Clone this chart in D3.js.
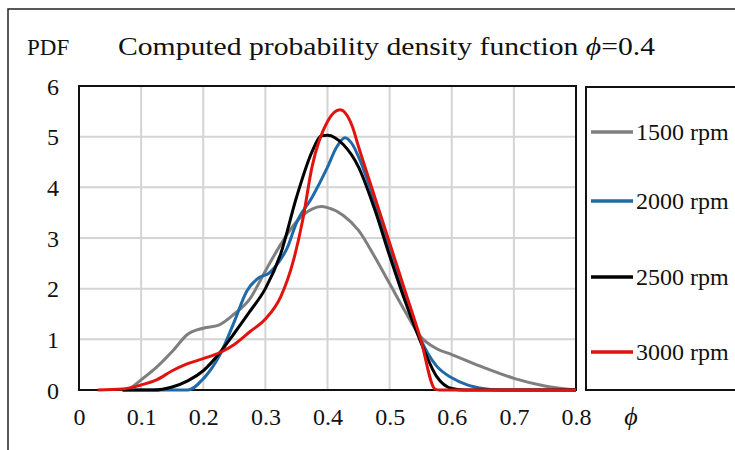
<!DOCTYPE html>
<html>
<head>
<meta charset="utf-8">
<script src="https://cdn.jsdelivr.net/npm/d3@7"></script>
<style>
  body { margin: 0; background: #fff; }
  svg text { font-family: "Liberation Serif", "Times New Roman", serif; fill: #111; }
</style>
</head>
<body>
<div id="chart"></div>
<script>
// Series: [phi, pdf] pairs
const series1500 = [
  [0.07, 0], [0.08, 0.02], [0.1, 0.2], [0.125, 0.45], [0.15, 0.76], [0.175, 1.1],
  [0.2, 1.22], [0.225, 1.28], [0.25, 1.5], [0.275, 1.8], [0.3, 2.35], [0.325, 2.88],
  [0.35, 3.32], [0.375, 3.57], [0.39, 3.62], [0.4, 3.6], [0.425, 3.45], [0.45, 3.15],
  [0.475, 2.65], [0.5, 2.1], [0.525, 1.55], [0.55, 1.05], [0.575, 0.82], [0.6, 0.7],
  [0.65, 0.45], [0.7, 0.23], [0.75, 0.08], [0.8, 0]
]
const series2000 = [
  [0.07, 0], [0.175, 0], [0.2, 0.22], [0.227, 0.7], [0.25, 1.35], [0.27, 1.95],
  [0.29, 2.22], [0.305, 2.3], [0.32, 2.5], [0.335, 2.8], [0.35, 3.3], [0.375, 3.8],
  [0.4, 4.4], [0.415, 4.8], [0.428, 4.98], [0.44, 4.85], [0.45, 4.6], [0.475, 3.75],
  [0.5, 2.75], [0.525, 1.85], [0.55, 1.0], [0.575, 0.48], [0.6, 0.24], [0.625, 0.1],
  [0.65, 0.03], [0.68, 0], [0.8, 0]
]
const series2500 = [
  [0.07, 0], [0.12, 0], [0.15, 0.06], [0.175, 0.18], [0.2, 0.38], [0.227, 0.74],
  [0.25, 1.12], [0.275, 1.55], [0.3, 2.0], [0.325, 2.7], [0.35, 3.8], [0.375, 4.7],
  [0.39, 5.02], [0.4, 5.03], [0.425, 4.85], [0.45, 4.4], [0.475, 3.6], [0.5, 2.65],
  [0.525, 1.75], [0.55, 0.95], [0.575, 0.28], [0.6, 0.03], [0.62, 0], [0.8, 0]
]
const series3000 = [
  [0.03, 0], [0.07, 0.02], [0.1, 0.1], [0.125, 0.2], [0.15, 0.38], [0.175, 0.52],
  [0.2, 0.62], [0.227, 0.74], [0.25, 0.9], [0.275, 1.15], [0.3, 1.4], [0.325, 1.85],
  [0.345, 2.55], [0.36, 3.35], [0.375, 4.4], [0.4, 5.3], [0.42, 5.53], [0.44, 5.2],
  [0.45, 4.8], [0.475, 3.85], [0.5, 2.9], [0.525, 1.95], [0.55, 1.0], [0.573, 0.02],
  [0.58, 0], [0.8, 0]
]

const seriesNames = ['1500 rpm', '2000 rpm', '2500 rpm', '3000 rpm']
const seriesColors = ['#7f7f7f', '#1f6aa8', '#000000', '#e0140f']
const allSeries = [series1500, series2000, series2500, series3000]

const xTicks = [0, 0.1, 0.2, 0.3, 0.4, 0.5, 0.6, 0.7, 0.8]
const yTicks = [0, 1, 2, 3, 4, 5, 6]

const drawChart = () => {
  const width = 735
  const height = 450
  const plot = { left: 79, top: 86, right: 576, bottom: 390 }

  const svg = d3.select('#chart')
    .append('svg')
    .attr('width', width)
    .attr('height', height)

  // outer frame (left + top edges visible)
  svg.append('path')
    .attr('d', `M8,${height} L8,9 L${width},9`)
    .attr('fill', 'none')
    .attr('stroke', '#222')
    .attr('stroke-width', 1.5)

  const x = d3.scaleLinear().domain([0, 0.8]).range([plot.left, plot.right])
  const y = d3.scaleLinear().domain([0, 6]).range([plot.bottom, plot.top])

  // gridlines
  svg.append('g')
    .selectAll('line')
    .data(xTicks.slice(1, -1))
    .join('line')
    .attr('x1', d => x(d)).attr('x2', d => x(d))
    .attr('y1', plot.top).attr('y2', plot.bottom)
    .attr('stroke', '#d4d4d4').attr('stroke-width', 2)

  svg.append('g')
    .selectAll('line')
    .data(yTicks.slice(1, -1))
    .join('line')
    .attr('x1', plot.left).attr('x2', plot.right)
    .attr('y1', d => y(d)).attr('y2', d => y(d))
    .attr('stroke', '#d4d4d4').attr('stroke-width', 2)

  // plot frame
  svg.append('rect')
    .attr('x', plot.left).attr('y', plot.top)
    .attr('width', plot.right - plot.left).attr('height', plot.bottom - plot.top)
    .attr('fill', 'none').attr('stroke', '#111').attr('stroke-width', 2)

  // x tick labels
  svg.append('g')
    .call(d3.axisBottom(x).tickValues(xTicks).tickSize(0).tickPadding(0)
      .tickFormat(d => d === 0 ? '0' : d3.format('.1f')(d)))
    .attr('transform', `translate(0, 408)`)
    .call(g => g.select('.domain').remove())
    .selectAll('text')
    .attr('dy', '0.72em')
    .style('font-size', '24px')
    .attr('fill', '#111')

  // y tick labels
  svg.append('g')
    .call(d3.axisLeft(y).tickValues(yTicks).tickSize(0).tickPadding(0)
      .tickFormat(d3.format('d')))
    .attr('transform', `translate(${plot.left - 20}, 0)`)
    .call(g => g.select('.domain').remove())
    .selectAll('text')
    .attr('dy', '0.34em')
    .style('font-size', '24px')
    .attr('fill', '#111')

  // curves
  const line = d3.line()
    .x(d => x(d[0]))
    .y(d => y(d[1]))
    .curve(d3.curveMonotoneX)

  svg.append('g')
    .selectAll('path')
    .data(allSeries)
    .join('path')
    .attr('d', line)
    .attr('fill', 'none')
    .attr('stroke', (d, i) => seriesColors[i])
    .attr('stroke-width', 3)
    .attr('stroke-linejoin', 'round')

  // titles
  svg.append('text')
    .attr('x', 27).attr('y', 55)
    .style('font-size', '23px')
    .text('PDF')

  const title = svg.append('text')
    .attr('x', 118).attr('y', 55)
    .attr('textLength', 537)
    .attr('lengthAdjust', 'spacingAndGlyphs')
    .style('font-size', '26px')
  title.append('tspan').text('Computed probability density function ')
  title.append('tspan').style('font-style', 'italic').text('ϕ')
  title.append('tspan').text('=0.4')

  svg.append('text')
    .attr('x', 631).attr('y', 425)
    .attr('text-anchor', 'middle')
    .style('font-size', '26px')
    .style('font-style', 'italic')
    .text('ϕ')

  // legend
  const legend = svg.append('g')
  legend.append('rect')
    .attr('x', 586).attr('y', 87)
    .attr('width', 160).attr('height', 303)
    .attr('fill', 'none').attr('stroke', '#111').attr('stroke-width', 2)

  const legendY = [132, 201, 277, 352]
  const items = legend.selectAll('g')
    .data(seriesNames)
    .join('g')
    .attr('transform', (d, i) => `translate(591, ${legendY[i]})`)

  items.append('line')
    .attr('x1', 0).attr('x2', 42)
    .attr('stroke', (d, i) => seriesColors[i])
    .attr('stroke-width', 3.5)

  items.append('text')
    .attr('x', 45).attr('dy', '0.34em')
    .style('font-size', '24px')
    .text(d => d)
}

drawChart()
</script>
</body>
</html>
